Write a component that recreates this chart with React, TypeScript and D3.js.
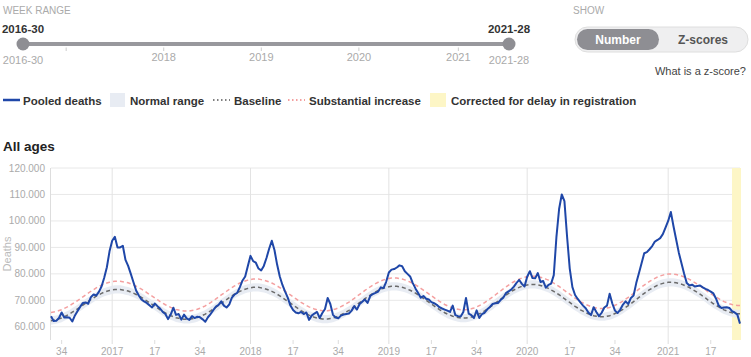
import React from "react";
import * as d3 from "d3";

// ISO week spans shown: [year, first week, last week]
const YEAR_SPANS: [number, number, number][] = [
  [2016, 30, 52],
  [2017, 1, 52],
  [2018, 1, 52],
  [2019, 1, 52],
  [2020, 1, 53],
  [2021, 1, 28],
];
const WEEKS: string[] = YEAR_SPANS.flatMap(([yr, a, b]) =>
  d3.range(a, b + 1).map((w) => `${yr}-${String(w).padStart(2, "0")}`)
);

// Pooled deaths, thousands, one value per week (2016-30 .. 2021-28)
const POOLED_K = [
  64.0, 62.2, 62.3, 63.3, 65.4, 63.5, 63.6, 63.4, 62.0, 64.3,
  66.0, 67.6, 69.0, 69.2, 68.7, 71.2, 72.2, 71.8, 73.2, 75.2,
  78.5, 82.5, 88.5, 92.5, 94.0, 90.0, 90.0, 90.6, 85.3, 83.0,
  80.0, 76.8, 73.7, 71.8, 70.3, 69.6, 69.0, 68.1, 67.3, 68.8,
  67.8, 66.9, 65.6, 64.8, 62.9, 64.6, 67.2, 64.5, 64.8, 62.7,
  64.6, 63.2, 62.6, 64.0, 63.3, 63.8, 63.6, 62.8, 61.9, 63.6,
  64.8, 66.3, 67.6, 68.3, 69.6, 68.0, 67.3, 68.4, 71.0, 72.2,
  72.8, 75.0, 77.5, 79.0, 83.0, 86.8, 84.8, 84.2, 82.0, 81.3,
  83.0, 86.0, 89.5, 92.5, 89.0, 83.5, 79.0, 75.8, 73.3, 71.0,
  68.0, 66.3, 65.4, 65.1, 65.6, 64.8, 65.4, 62.6, 64.2, 65.0,
  65.6, 63.3, 65.2, 66.7, 70.9, 68.6, 64.5, 63.5, 63.2, 64.2,
  64.6, 64.8, 65.0, 66.1, 67.8, 66.5, 68.6, 69.5, 70.3, 69.0,
  71.6, 72.4, 72.8, 73.3, 74.9, 74.6, 77.0, 80.5, 81.6, 81.8,
  82.4, 83.2, 82.9, 81.0, 80.0, 79.0, 76.5, 74.5, 72.8, 71.0,
  71.6, 70.6, 70.3, 69.3, 68.9, 68.3, 67.4, 66.9, 66.5, 66.1,
  65.6, 68.0, 64.4, 64.0, 63.9, 65.6, 70.9, 65.0, 64.4, 63.3,
  66.2, 63.3, 64.8, 65.3, 66.6, 67.5, 68.6, 68.9, 69.0, 70.1,
  71.0, 72.7, 73.4, 74.0, 75.2, 76.6, 77.7, 76.2, 75.2, 78.9,
  81.0, 78.4, 78.3, 80.3, 76.9, 77.3, 74.8, 75.8, 76.3, 79.5,
  94.0, 104.5, 110.0, 107.5, 94.0, 82.0, 75.0, 72.0, 70.5, 69.2,
  68.0, 67.0, 65.4, 64.4, 67.4, 65.6, 64.0, 65.3, 67.3, 68.0,
  72.5, 68.8, 66.1, 65.2, 66.5, 68.4, 69.6, 68.6, 70.9, 71.8,
  76.5, 80.2, 84.0, 87.8, 88.2, 89.3, 90.5, 92.2, 92.8, 93.5,
  95.0, 97.5, 100.0, 103.4, 98.0, 93.0, 88.0, 84.0, 80.0, 76.5,
  75.6, 75.9, 75.2, 75.4, 75.6, 74.9, 74.3, 73.9, 73.3, 72.6,
  70.6, 68.0, 67.1, 67.3, 67.4, 67.1, 65.9, 65.4, 64.6, 61.2,
];

// Baseline, thousands, per week
const BASELINE_K = [
  62.3, 62.5, 62.7, 63.0, 63.3, 63.8, 64.3, 64.8, 65.5, 66.1,
  66.8, 67.5, 68.2, 68.9, 69.6, 70.3, 70.9, 71.6, 72.1, 72.6,
  73.1, 73.4, 73.7, 73.9, 74.1, 74.1,
  74.1, 73.9, 73.7, 73.5, 73.1, 72.7, 72.2, 71.7, 71.1, 70.5,
  69.8, 69.1, 68.5, 67.8, 67.1, 66.4, 65.8, 65.2, 64.7, 64.2,
  63.8, 63.4, 63.2, 63.0, 62.8, 62.8,
  62.8, 63.0, 63.2, 63.5, 63.9, 64.3, 64.8, 65.4, 66.0, 66.7,
  67.4, 68.1, 68.9, 69.6, 70.3, 71.0, 71.7, 72.3, 72.9, 73.4,
  73.8, 74.2, 74.5, 74.7, 74.9, 74.9,
  74.9, 74.7, 74.5, 74.2, 73.8, 73.4, 72.9, 72.3, 71.7, 71.0,
  70.3, 69.6, 68.9, 68.2, 67.5, 66.8, 66.1, 65.5, 64.9, 64.4,
  64.0, 63.6, 63.3, 63.1, 62.9, 62.9,
  62.9, 63.1, 63.3, 63.6, 64.0, 64.5, 65.0, 65.6, 66.2, 66.9,
  67.6, 68.4, 69.1, 69.8, 70.6, 71.3, 72.0, 72.6, 73.2, 73.7,
  74.2, 74.6, 74.9, 75.1, 75.3, 75.3,
  75.3, 75.1, 74.9, 74.6, 74.2, 73.8, 73.3, 72.7, 72.1, 71.4,
  70.7, 70.0, 69.3, 68.6, 67.9, 67.2, 66.5, 65.9, 65.3, 64.8,
  64.4, 64.0, 63.7, 63.5, 63.3, 63.3,
  63.3, 63.5, 63.7, 64.0, 64.4, 64.9, 65.4, 66.0, 66.7, 67.4,
  68.1, 68.9, 69.7, 70.4, 71.2, 71.9, 72.6, 73.3, 73.9, 74.4,
  74.9, 75.3, 75.6, 75.8, 76.0, 76.0,
  76.0, 75.8, 75.6, 75.3, 74.9, 74.5, 73.9, 73.4, 72.7, 72.1,
  71.4, 70.6, 69.9, 69.2, 68.4, 67.7, 67.1, 66.4, 65.9, 65.3,
  64.9, 64.5, 64.2, 64.0, 63.8, 63.8,
  63.8, 64.0, 64.2, 64.5, 65.0, 65.4, 66.0, 66.6, 67.3, 68.0,
  68.7, 69.5, 70.3, 71.1, 71.9, 72.6, 73.3, 74.0, 74.6, 75.2,
  75.7, 76.1, 76.4, 76.6, 76.8, 76.8,
  76.8, 76.6, 76.4, 76.1, 75.7, 75.3, 74.8, 74.2, 73.6, 73.0,
  72.3, 71.6, 70.9, 70.1, 69.4, 68.7, 68.1, 67.5, 66.9, 66.4,
  66.0, 65.6, 65.3, 65.1, 64.9, 64.9,
];

// Standard deviation (thousands) used for the normal range (±2) and substantial increase (+4)
const SD_K = 0.78;
const Z_NORMAL = 2;
const Z_SUBSTANTIAL = 4;

const CORRECTED_FROM = "2021-25";

const X_TICKS = [
  "2016-34", "2017-01", "2017-17", "2017-34", "2018-01", "2018-17", "2018-34",
  "2019-01", "2019-17", "2019-34", "2020-01", "2020-17", "2020-34", "2021-01", "2021-17",
];
const X_TICK_LABELS = [
  "34", "2017", "17", "34", "2018", "17", "34", "2019", "17", "34", "2020", "17", "34", "2021", "17",
];
const Y_TICKS = [60000, 70000, 80000, 90000, 100000, 110000, 120000];

const SLIDER_TICKS = ["2017-01", "2018-01", "2019-01", "2020-01", "2021-01"];
const SLIDER_TICK_LABELS = ["", "2018", "2019", "2020", "2021"];
const RANGE_START = "2016-30";
const RANGE_END = "2021-28";

const FONT = "'Liberation Sans', Arial, sans-serif";
const BLUE = "#1f47a8";

const fmt = d3.formatLocale({
  decimal: ",",
  thousands: ".",
  grouping: [3],
  currency: ["", "€"],
}).format(",");

export default function App() {
  const W = 751;
  const H = 357;
  const plot = { left: 51, right: 740, top: 168, bottom: 340 };

  const x = d3.scalePoint<string>().domain(WEEKS).range([plot.left, plot.right]);
  const y = d3.scaleLinear().domain([55000, 120000]).range([plot.bottom, plot.top]);
  const sx = d3.scalePoint<string>().domain(WEEKS).range([23, 509]);

  const rows = WEEKS.map((w, i) => ({
    w,
    v: POOLED_K[i] * 1000,
    b: BASELINE_K[i] * 1000,
    sd: SD_K * 1000,
  }));
  type Row = (typeof rows)[number];

  const pooledLine = d3.line<Row>().x((d) => x(d.w)!).y((d) => y(d.v));
  const baseLine = d3.line<Row>().x((d) => x(d.w)!).y((d) => y(d.b));
  const substLine = d3.line<Row>().x((d) => x(d.w)!).y((d) => y(d.b + Z_SUBSTANTIAL * d.sd));
  const normalArea = d3
    .area<Row>()
    .x((d) => x(d.w)!)
    .y0((d) => y(d.b - Z_NORMAL * d.sd))
    .y1((d) => y(d.b + Z_NORMAL * d.sd));

  const corrX0 = x(CORRECTED_FROM)!;

  const legendText = { fontFamily: FONT, fontSize: 11.5, fontWeight: 700, fill: "#333" } as const;

  return (
    <div style={{ position: "fixed", left: 0, top: 0, width: W, height: H, background: "#fff" }}>
      <svg width={W} height={H} style={{ display: "block" }}>
        {/* ---------- Week range slider ---------- */}
        <text x={3} y={14} fontFamily={FONT} fontSize={10} fill="#aaa">WEEK RANGE</text>
        <text x={sx(RANGE_START)} y={33} textAnchor="middle" fontFamily={FONT} fontSize={11.5} fontWeight={700} fill="#333">{RANGE_START}</text>
        <text x={sx(RANGE_END)} y={33} textAnchor="middle" fontFamily={FONT} fontSize={11.5} fontWeight={700} fill="#333">{RANGE_END}</text>
        <line x1={sx(RANGE_START)} x2={sx(RANGE_END)} y1={44} y2={44} stroke="#98989d" strokeWidth={4} strokeLinecap="round" />
        {SLIDER_TICKS.map((t, i) => (
          <g key={t}>
            <line x1={sx(t)} x2={sx(t)} y1={47.5} y2={51} stroke="#ccc" />
            {SLIDER_TICK_LABELS[i] && (
              <text x={sx(t)} y={61} textAnchor="middle" fontFamily={FONT} fontSize={11} fill="#aaa">{SLIDER_TICK_LABELS[i]}</text>
            )}
          </g>
        ))}
        <circle cx={sx(RANGE_START)} cy={44} r={6.5} fill="#8e8e93" />
        <circle cx={sx(RANGE_END)} cy={44} r={6.5} fill="#8e8e93" />
        <text x={sx(RANGE_START)} y={64} textAnchor="middle" fontFamily={FONT} fontSize={11} fill="#aaa">{RANGE_START}</text>
        <text x={sx(RANGE_END)} y={64} textAnchor="middle" fontFamily={FONT} fontSize={11} fill="#aaa">{RANGE_END}</text>

        {/* ---------- Show toggle ---------- */}
        <text x={573} y={14} fontFamily={FONT} fontSize={10} fill="#aaa">SHOW</text>
        <rect x={575} y={27} width={173} height={25} rx={12.5} fill="#efeff0" stroke="#dedede" />
        <rect x={577} y={29} width={82} height={21} rx={10.5} fill="#8e8e93" />
        <text x={618} y={44} textAnchor="middle" fontFamily={FONT} fontSize={12} fontWeight={700} fill="#fff">Number</text>
        <text x={703} y={44} textAnchor="middle" fontFamily={FONT} fontSize={12} fontWeight={700} fill="#555">Z-scores</text>
        <text x={746} y={75} textAnchor="end" fontFamily={FONT} fontSize={11} fill="#444">What is a z-score?</text>

        {/* ---------- Legend ---------- */}
        <line x1={3} x2={20} y1={100} y2={100} stroke={BLUE} strokeWidth={2.5} />
        <text x={23} y={104.5} {...legendText}>Pooled deaths</text>
        <rect x={110} y={93} width={15} height={14} fill="#e8ecf3" />
        <text x={130} y={104.5} {...legendText}>Normal range</text>
        <line x1={213} x2={230} y1={100} y2={100} stroke="#555" strokeWidth={1.5} strokeDasharray="1.5,2.5" />
        <text x={234} y={104.5} {...legendText}>Baseline</text>
        <line x1={288} x2={305} y1={100} y2={100} stroke="#f08080" strokeWidth={1.5} strokeDasharray="1.5,2.5" />
        <text x={309} y={104.5} {...legendText}>Substantial increase</text>
        <rect x={430} y={93} width={16} height={14} fill="#fdf6c6" />
        <text x={451} y={104.5} {...legendText}>Corrected for delay in registration</text>

        {/* ---------- Title ---------- */}
        <text x={3} y={151} fontFamily={FONT} fontSize={13.5} fontWeight={700} fill="#222">All ages</text>

        {/* ---------- Chart ---------- */}
        {Y_TICKS.map((t) => (
          <g key={t}>
            <line x1={plot.left} x2={plot.right} y1={y(t)} y2={y(t)} stroke="#e8e8e8" />
            <text x={45} y={y(t) + 3.5} textAnchor="end" fontFamily={FONT} fontSize={10} fill="#aaa">{fmt(t)}</text>
          </g>
        ))}
        <text transform={`translate(11, 254) rotate(-90)`} textAnchor="middle" fontFamily={FONT} fontSize={11} fill="#bbb">Deaths</text>
        <line x1={plot.left - 0.5} x2={plot.left - 0.5} y1={plot.top} y2={plot.bottom} stroke="#ddd" />
        {X_TICKS.map((t, i) => {
          const isYear = X_TICK_LABELS[i].length === 4;
          return (
            <g key={t}>
              {isYear && <line x1={x(t)} x2={x(t)} y1={plot.top} y2={plot.bottom} stroke="#e3e3e3" />}
              <line x1={x(t)} x2={x(t)} y1={plot.bottom} y2={plot.bottom + 4} stroke="#ddd" />
              <text x={x(t)} y={354.5} textAnchor="middle" fontFamily={FONT} fontSize={10} fill="#aaa">{X_TICK_LABELS[i]}</text>
            </g>
          );
        })}

        <rect x={corrX0} y={plot.top} width={plot.right - corrX0 + 1} height={plot.bottom - plot.top} fill="#fdf6c6" />

        <path d={normalArea(rows)!} fill="#e5eaf2" opacity={0.9} />
        <path d={substLine(rows)!} fill="none" stroke="#f4a0a0" strokeWidth={1.5} strokeDasharray="4,3" />
        <path d={baseLine(rows)!} fill="none" stroke="#6b6b6b" strokeWidth={1.5} strokeDasharray="4,3" />
        <path d={pooledLine(rows)!} fill="none" stroke={BLUE} strokeWidth={2} strokeLinejoin="round" />
      </svg>
    </div>
  );
}
